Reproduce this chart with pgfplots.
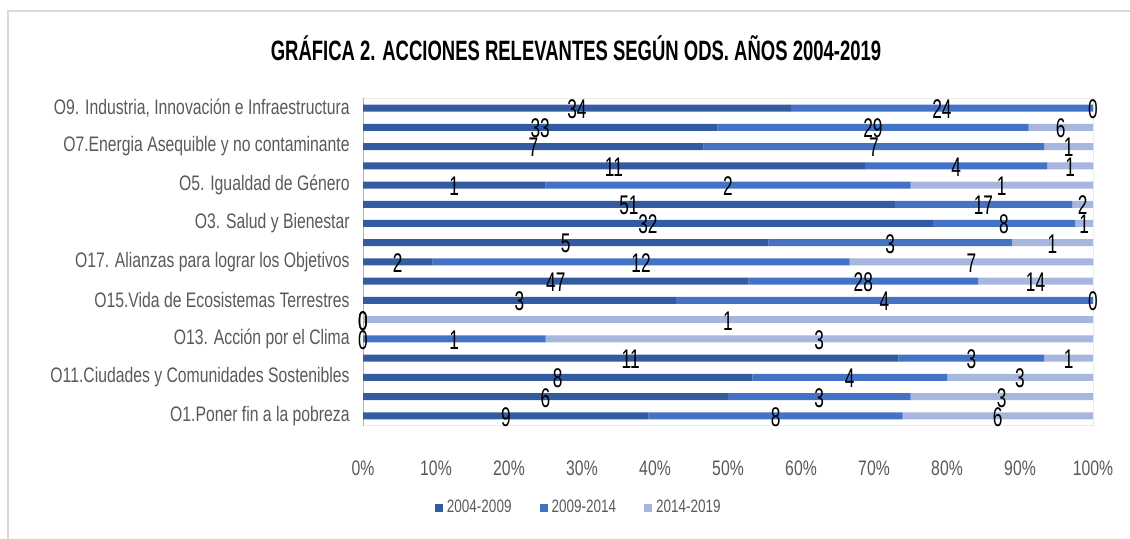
\documentclass[border=0pt]{standalone}
\usepackage{fontspec}
\setmainfont{Liberation Sans}[FakeStretch=0.75]
\newfontfamily\titlefont{Liberation Sans}[FakeStretch=0.66]
\newfontfamily\narrowfont{Liberation Sans}[FakeStretch=0.64]
\usepackage{pgfplots}
\usepackage{pgfplotstable}
\pgfplotsset{compat=1.18}
\definecolor{cA}{HTML}{345AA0}
\definecolor{cB}{HTML}{4472C4}
\definecolor{cC}{HTML}{A7B6DC}
\definecolor{txt}{HTML}{595959}

% y: row (1 = bottom), a = 2004-2009, b = 2009-2014, c = 2014-2019
\pgfplotstableread{
y a b c
1 9 8 6
2 6 3 3
3 8 4 3
4 11 3 1
5 0 1 3
6 0 0 1
7 3 4 0
8 47 28 14
9 2 12 7
10 5 3 1
11 32 8 1
12 51 17 2
13 1 2 1
14 11 4 1
15 7 7 1
16 33 29 6
17 34 24 0
}\data
\pgfplotstablecreatecol[expr={\thisrow{a}+\thisrow{b}+\thisrow{c}}]{t}\data
\pgfplotstablecreatecol[expr={100*\thisrow{a}/\thisrow{t}}]{pa}\data
\pgfplotstablecreatecol[expr={100*\thisrow{b}/\thisrow{t}}]{pb}\data
\pgfplotstablecreatecol[expr={100*\thisrow{c}/\thisrow{t}}]{pc}\data
\pgfplotstablecreatecol[expr={\thisrow{pa}/2}]{ma}\data
\pgfplotstablecreatecol[expr={\thisrow{pa}+\thisrow{pb}/2}]{mb}\data
\pgfplotstablecreatecol[expr={\thisrow{pa}+\thisrow{pb}+\thisrow{pc}/2}]{mc}\data

\pgfplotsset{
  common/.style={
    at={(181.5pt,56.7pt)}, anchor=south west,
    scale only axis, width=365pt, height=163.6pt,
    xmin=0, xmax=100, ymin=0.5, ymax=17.5,
  }
}

\begin{document}
\begin{tikzpicture}
\path[use as bounding box] (0,0) rectangle (565pt,269.5pt);
\draw[draw=black!15, line width=1pt] (4pt,0) -- (4pt,264pt) -- (565pt,264pt);
\node[font=\titlefont\bfseries\fontsize{14}{16}\selectfont] at (288pt,245.5pt) {GRÁFICA 2. ACCIONES RELEVANTES SEGÚN ODS. AÑOS 2004-2019};
\begin{axis}[
  common,
  xbar stacked, bar width=3.5pt,
  xtick={0,10,...,100},
  xticklabel={\pgfmathprintnumber{\tick}\%},
  ytick={1,3,...,17},
  yticklabels={O1.Poner fin  a la pobreza, O11.Ciudades y Comunidades Sostenibles, O13. Acción por el Clima, O15.Vida de Ecosistemas Terrestres, O17. Alianzas para lograr los Objetivos, O3. Salud y Bienestar, O5. Igualdad de Género, O7.Energia Asequible y no contaminante, {O9. Industria, Innovación e Infraestructura}},
  major tick length=0pt,
  axis line style={draw=black!8},
  /pgf/number format/assume math mode=true,
  xticklabel style={font=\fontsize{10.5}{12}\selectfont, text=txt, yshift=-14pt},
  yticklabel style={font=\fontsize{10.5}{12}\selectfont, text=txt, inner sep=0pt, xshift=-6.5pt},
  legend style={at={(0.297,-0.252)}, anchor=center, legend columns=3, draw=none, fill=none,
    font=\fontsize{9}{10}\selectfont, text=txt,
    /tikz/every even column/.append style={column sep=12pt}},
  legend image code/.code={\fill[#1] (0pt,-2pt) rectangle (4pt,2pt);},
]
\addplot[fill=cA, draw=none] table[x=pa, y=y] {\data};
\addplot[fill=cB, draw=none] table[x=pb, y=y] {\data};
\addplot[fill=cC, draw=none] table[x=pc, y=y] {\data};
\legend{2004-2009, 2009-2014, 2014-2019}
\draw[black!30] (axis cs:0,0.5) -- (axis cs:0,17.5);
\end{axis}
\begin{axis}[
  common, hide axis,
  nodes near coords, point meta=explicit symbolic,
  nodes near coords align={anchor=center},
  every node near coord/.append style={font=\narrowfont\fontsize{13.5}{14}\selectfont, text=black, inner sep=0pt, yshift=-0.5pt},
]
\addplot[only marks, mark=*, mark size=0pt, mark options={draw=none, fill=none}] table[x=ma, y=y, meta=a] {\data};
\addplot[only marks, mark=*, mark size=0pt, mark options={draw=none, fill=none}] table[x=mb, y=y, meta=b] {\data};
\addplot[only marks, mark=*, mark size=0pt, mark options={draw=none, fill=none}] table[x=mc, y=y, meta=c] {\data};
\end{axis}
\end{tikzpicture}
\end{document}
